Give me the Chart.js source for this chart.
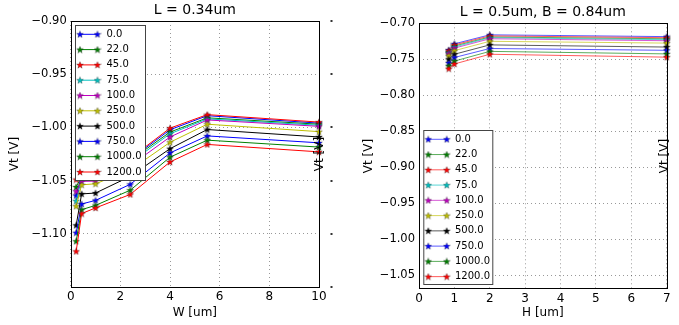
<!DOCTYPE html>
<html>
<head>
<meta charset="utf-8">
<script src="https://cdn.jsdelivr.net/npm/chart.js@4.4.1/dist/chart.umd.min.js"></script>
<style>
  html, body { margin: 0; padding: 0; background: #fff; }
  #wrap { position: relative; width: 679px; height: 325px; overflow: hidden; }
  .box { position: absolute; top: 0; height: 325px; }
  #boxW { left: 0; width: 340px; }
  #boxH { left: 340px; width: 339px; }
</style>
</head>
<body>
<div id="wrap">
  <div class="box" id="boxW"><canvas id="chartW" width="340" height="325"></canvas></div>
  <div class="box" id="boxH"><canvas id="chartH" width="339" height="325"></canvas></div>
</div>
<script>
// series labels (stress values) and matplotlib classic colour cycle
const stressLabels = ['0.0', '22.0', '45.0', '75.0', '100.0', '250.0', '500.0', '750.0', '1000.0', '1200.0'];
const seriesColors = ['#0000ff', '#008000', '#ff0000', '#00bfbf', '#bf00bf', '#bfbf00', '#000000', '#0000ff', '#008000', '#ff0000'];

// left plot: Vt vs W (L = 0.34um)
const wValues = [0.22, 0.44, 1.0, 2.4, 4.0, 5.5, 10];
const vtByW = [
    [-1.064, -1.045, -1.043, -1.030, -1.0022, -0.989, -0.996],
    [-1.056, -1.046, -1.044, -1.031, -1.0044, -0.991, -0.997],
    [-1.049, -1.044, -1.042, -1.029, -1.0007, -0.988, -0.995],
    [-1.069, -1.048, -1.046, -1.033, -1.006, -0.992, -0.998],
    [-1.060, -1.0507, -1.0505, -1.036, -1.009, -0.993, -0.999],
    [-1.074, -1.054, -1.053, -1.040, -1.014, -0.997, -1.004],
    [-1.092, -1.0625, -1.0617, -1.046, -1.020, -1.002, -1.009],
    [-1.099, -1.072, -1.0686, -1.0535, -1.024, -1.008, -1.0145],
    [-1.107, -1.0773, -1.0733, -1.059, -1.028, -1.012, -1.0185],
    [-1.1165, -1.081, -1.0757, -1.063, -1.0325, -1.016, -1.023]
];
const wTicks = [0, 2, 4, 6, 8, 10];
const vtTicksW = [-0.90, -0.95, -1.00, -1.05, -1.10];

// right plot: Vt vs H (L = 0.5um, B = 0.84um)
const hValues = [0.84, 1.0, 2.0, 7.0];
const vtByH = [
    [-0.737, -0.7285, -0.7160, -0.7185],
    [-0.740, -0.7315, -0.7190, -0.7215],
    [-0.738, -0.7300, -0.7175, -0.7200],
    [-0.741, -0.7330, -0.7200, -0.7228],
    [-0.742, -0.7345, -0.7215, -0.7242],
    [-0.745, -0.7380, -0.7250, -0.7275],
    [-0.750, -0.7430, -0.7300, -0.7330],
    [-0.755, -0.7475, -0.7350, -0.7375],
    [-0.759, -0.7525, -0.7390, -0.7425],
    [-0.763, -0.7565, -0.7430, -0.7470]
];
const hTicks = [0, 1, 2, 3, 4, 5, 6, 7];
const vtTicksH = [-0.70, -0.75, -0.80, -0.85, -0.90, -0.95, -1.00, -1.05];

const FONT = '"DejaVu Sans", sans-serif';
Chart.defaults.color = '#000';
Chart.defaults.font.family = FONT;

// filled 5-point star used as marker
function makeStar(color) {
    const c = document.createElement('canvas');
    c.width = 8; c.height = 8;
    const g = c.getContext('2d');
    g.beginPath();
    for (let k = 0; k < 10; k++) {
        const r = k % 2 ? 1.5 : 3.6;
        const ang = -Math.PI / 2 + k * Math.PI / 5;
        const px = 4 + r * Math.cos(ang), py = 4.3 + r * Math.sin(ang);
        if (k) g.lineTo(px, py); else g.moveTo(px, py);
    }
    g.closePath();
    g.fillStyle = color;
    g.fill();
    g.strokeStyle = 'rgba(0,0,0,0.55)';
    g.lineWidth = 0.5;
    g.stroke();
    return c;
}
const stars = seriesColors.map(makeStar);

function withAlpha(hex, a) {
    const n = parseInt(hex.slice(1), 16);
    return `rgba(${n >> 16},${(n >> 8) & 255},${n & 255},${a})`;
}

const fmtV = v => (v < 0 ? '\u2212' : '') + Math.abs(v).toFixed(2);

// frame, in-axes legend and the twin-axis label drawn on top
const overlay = {
    id: 'overlay',
    afterDatasetsDraw(chart, args, o) {
        const { ctx, chartArea: a } = chart;
        ctx.save();
        ctx.strokeStyle = '#000';
        ctx.lineWidth = 1;
        ctx.strokeRect(Math.round(a.left) + 0.5, Math.round(a.top) + 0.5,
            Math.round(a.right - a.left), Math.round(a.bottom - a.top));

        // legend box
        const L = o.legend;
        ctx.fillStyle = '#fff';
        ctx.fillRect(L.x, L.y, L.w, L.h);
        ctx.strokeStyle = '#444';
        ctx.strokeRect(L.x + 0.5, L.y + 0.5, L.w, L.h);
        ctx.font = '10px ' + FONT;
        ctx.textBaseline = 'middle';
        chart.data.datasets.forEach((ds, i) => {
            const cy = L.y + L.first + i * L.step;
            ctx.strokeStyle = ds.borderColor;
            ctx.lineWidth = 1;
            ctx.beginPath();
            ctx.moveTo(L.x1, cy);
            ctx.lineTo(L.x2, cy);
            ctx.stroke();
            ctx.drawImage(stars[i], L.x1 - 4, cy - 4);
            ctx.drawImage(stars[i], L.x2 - 4, cy - 4);
            ctx.fillStyle = '#000';
            ctx.fillText(ds.label, L.tx, cy);
        });

        // twin y-axis label on the right side
        ctx.save();
        ctx.translate(o.twin.x, (a.top + a.bottom) / 2);
        ctx.rotate(-Math.PI / 2);
        ctx.font = '12px ' + FONT;
        ctx.textAlign = 'center';
        ctx.textBaseline = 'middle';
        ctx.fillStyle = '#000';
        ctx.fillText('Vt [V]', 0, 0);
        ctx.restore();

        if (o.twin.tickX) {
            ctx.fillStyle = '#333';
            const ys = chart.scales.y;
            for (let v = ys.max; v >= ys.min - 1e-9; v -= 0.05) {
                ctx.fillRect(o.twin.tickX, Math.round(ys.getPixelForValue(v)) - 1, 2, 2);
            }
        }
        ctx.restore();
    }
};

function makeChart(id, cfg) {
    const datasets = cfg.values.map((vals, i) => ({
        label: stressLabels[i],
        data: vals.map((v, j) => ({ x: cfg.xs[j], y: v })),
        borderColor: withAlpha(seriesColors[i], cfg.lineAlpha),
        borderWidth: 1,
        pointStyle: stars[i],
        pointRadius: 4,
        pointHoverRadius: 4,
        tension: 0,
        clip: false,
        order: -i
    }));
    return new Chart(document.getElementById(id), {
        type: 'line',
        data: { datasets },
        plugins: [overlay],
        options: {
            responsive: false,
            animation: false,
            layout: { padding: { left: cfg.padLeft, right: cfg.padRight, top: 0, bottom: 0 } },
            plugins: {
                legend: { display: false },
                tooltip: { enabled: false },
                title: {
                    display: true, text: cfg.title, fullSize: false,
                    font: { size: 14, weight: 'normal' }, color: '#000',
                    padding: { top: cfg.titleTop, bottom: cfg.titleBottom }
                },
                overlay: { legend: cfg.legend, twin: cfg.twin }
            },
            scales: {
                x: {
                    type: 'linear', min: cfg.xMin, max: cfg.xMax,
                    afterBuildTicks: ax => { ax.ticks = cfg.xTicks.map(v => ({ value: v })); },
                    afterFit: ax => { ax.height = cfg.xAxisH; },
                    grid: { color: 'rgba(0,0,0,0.4)', drawTicks: false, lineWidth: 1 },
                    border: { display: false, dash: [1, 3] },
                    ticks: { font: { size: 12 }, padding: 3, maxRotation: 0, callback: v => String(v) },
                    title: { display: true, text: cfg.xTitle, font: { size: 12 }, padding: { top: 0, bottom: 5 } }
                },
                y: {
                    type: 'linear', min: cfg.yMin, max: cfg.yMax,
                    afterBuildTicks: ax => { ax.ticks = cfg.yTicks.map(v => ({ value: v })); },
                    afterFit: ax => { ax.width = cfg.yAxisW; },
                    grid: { color: 'rgba(0,0,0,0.4)', drawTicks: false, lineWidth: 1 },
                    border: { display: false, dash: [1, 3] },
                    ticks: { font: { size: 11.5 }, padding: 4, callback: fmtV },
                    title: { display: true, text: 'Vt [V]', font: { size: 12 }, padding: { top: 5, bottom: 0 } }
                }
            }
        }
    });
}

makeChart('chartW', {
    title: 'L = 0.34um', xTitle: 'W [um]',
    xs: wValues, values: vtByW, lineAlpha: 1,
    xMin: 0, xMax: 10, xTicks: wTicks,
    yMin: -1.15, yMax: -0.90, yTicks: vtTicksW,
    padLeft: 3, padRight: 21, yAxisW: 67.7, xAxisH: 38,
    titleTop: 2, titleBottom: 2.2,
    legend: { x: 75, y: 25, w: 70, h: 155, first: 9.3, step: 15.3, x1: 80, x2: 97.5, tx: 106.5 },
    twin: { x: 320, tickX: 330.5 }
});

makeChart('chartH', {
    title: 'L = 0.5um, B = 0.84um', xTitle: 'H [um]',
    xs: hValues, values: vtByH, lineAlpha: 0.65,
    xMin: 0, xMax: 7, xTicks: hTicks,
    yMin: -1.0686, yMax: -0.70, yTicks: vtTicksH,
    padLeft: 17, padRight: 12.3, yAxisW: 62, xAxisH: 36.3,
    titleTop: 3.5, titleBottom: 3,
    legend: { x: 83.3, y: 130, w: 69, h: 154, first: 9.3, step: 15.26, x1: 88.3, x2: 106.7, tx: 115 },
    twin: { x: 325, tickX: null }
});
</script>
</body>
</html>
